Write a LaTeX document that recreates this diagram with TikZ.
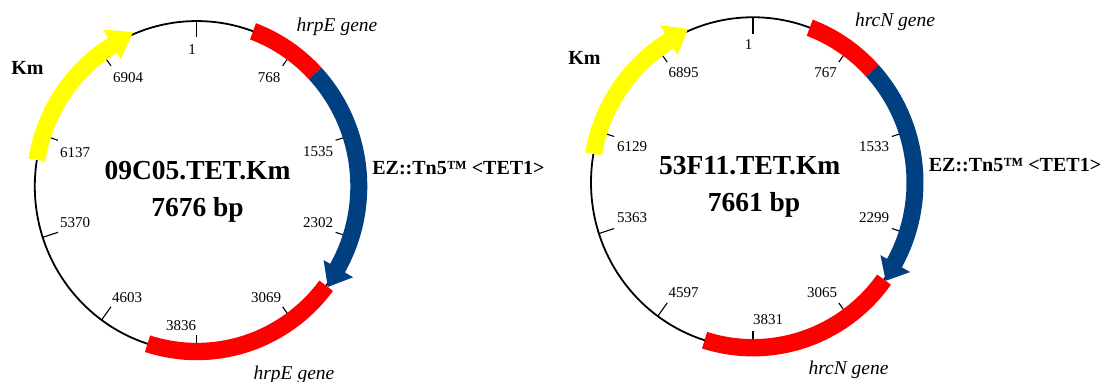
\documentclass[tikz,border=0pt]{standalone}
\usepackage{fontspec}
\setmainfont{Liberation Serif}
\definecolor{tnblue}{RGB}{0,64,128}
\definecolor{kmyellow}{RGB}{255,255,0}
\definecolor{genered}{RGB}{255,0,0}
\begin{document}
\begin{tikzpicture}[x=1pt,y=1pt,
  backbone/.style={line width=1.8pt},
  tickmark/.style={line width=1.1pt},
  ticklabel/.style={anchor=base,inner sep=0pt,font=\fontsize{15}{15}\selectfont},
  maptitle/.style={anchor=base,inner sep=0pt,font=\fontsize{27.5}{28}\selectfont\bfseries},
  featlabel/.style={anchor=base,inner sep=0pt,font=\fontsize{20}{20}\selectfont\bfseries},
  genelabel/.style={anchor=base,inner sep=0pt,font=\fontsize{19.5}{20}\selectfont\itshape},
]
\useasboundingbox (0,0) rectangle (1101,382);
\fill[white] (0,0) rectangle (1101,382);

% ---------------- left plasmid ----------------
\begin{scope}[shift={(196.8,195.7)}, yscale=1.02]
  \draw[backbone] (0,0) circle[radius=162];
  \foreach \k in {0,...,9} \draw[tickmark] ({90-36*\k}:162) -- ({90-36*\k}:146);
  % Km (yellow arrow)
  \fill[kmyellow] (170.8:153.5) arc[start angle=170.8,end angle=121.4,radius=153.5]
     -- (121.4:146) -- (112.9:164) -- (121.4:180) -- (121.4:170.5)
     arc[start angle=121.4,end angle=170.8,radius=170.5] -- cycle;
  % hrpE top
  \fill[genered] (69.7:153.5) arc[start angle=69.7,end angle=43,radius=153.5]
     -- (43:170.5) arc[start angle=43,end angle=69.7,radius=170.5] -- cycle;
  % EZ::Tn5 (blue arrow)
  \fill[tnblue] (43:153.5) arc[start angle=43,end angle=-29.7,radius=153.5]
     -- (-29.7:146) -- (-37:164) -- (-29.7:180) -- (-29.7:170.5)
     arc[start angle=-29.7,end angle=43,radius=170.5] -- cycle;
  % hrpE bottom
  \fill[genered] (-37:153.5) arc[start angle=-37,end angle=-107.7,radius=153.5]
     -- (-107.7:170.5) arc[start angle=-107.7,end angle=-37,radius=170.5] -- cycle;
\end{scope}
\node[ticklabel] (L1)    at (192,327) {1};
\node[ticklabel] (L768)  at (269,299) {768};
\node[ticklabel] (L1535) at (318,225) {1535};
\node[ticklabel] (L2302) at (318,154) {2302};
\node[ticklabel] (L3069) at (266,79)  {3069};
\node[ticklabel] (L3836) at (181,51)  {3836};
\node[ticklabel] (L4603) at (127,79)  {4603};
\node[ticklabel] (L5370) at (75,154)  {5370};
\node[ticklabel] (L6137) at (75,224)  {6137};
\node[ticklabel] (L6904) at (128,299) {6904};
\node[maptitle] (Ltitle) at (197.5,202) {09C05.TET.Km};
\node[maptitle] (Lsize)  at (197.5,165.3) {7676 bp};
\node[featlabel] (LKm) at (27.5,307) {Km};
\node[featlabel] (LEZ) at (458.5,207) {EZ::Tn5™ <TET1>};
\node[genelabel] (LhrpEtop) at (337,350.5) {hrpE gene};
\node[genelabel] (LhrpEbot) at (294,2) {hrpE gene};

% ---------------- right plasmid ----------------
\begin{scope}[shift={(753,199.5)}, yscale=1.02]
  \draw[backbone] (0,0) circle[radius=162];
  \foreach \k in {0,...,9} \draw[tickmark] ({90-36*\k}:162) -- ({90-36*\k}:146);
  \fill[kmyellow] (170:153.5) arc[start angle=170,end angle=121.1,radius=153.5]
     -- (121.1:146) -- (113.4:164) -- (121.1:180) -- (121.1:170.5)
     arc[start angle=121.1,end angle=170,radius=170.5] -- cycle;
  \fill[genered] (69.5:153.5) arc[start angle=69.5,end angle=42.5,radius=153.5]
     -- (42.5:170.5) arc[start angle=42.5,end angle=69.5,radius=170.5] -- cycle;
  \fill[tnblue] (42.5:153.5) arc[start angle=42.5,end angle=-29.2,radius=153.5]
     -- (-29.2:146) -- (-36:164) -- (-29.2:180) -- (-29.2:170.5)
     arc[start angle=-29.2,end angle=42.5,radius=170.5] -- cycle;
  \fill[genered] (-36:153.5) arc[start angle=-36,end angle=-107.4,radius=153.5]
     -- (-107.4:170.5) arc[start angle=-107.4,end angle=-36,radius=170.5] -- cycle;
\end{scope}
\node[ticklabel] (R1)    at (748.7,332) {1};
\node[ticklabel] (R767)  at (825.5,304) {767};
\node[ticklabel] (R1533) at (874,230)   {1533};
\node[ticklabel] (R2299) at (874,159)   {2299};
\node[ticklabel] (R3065) at (822,84)    {3065};
\node[ticklabel] (R3831) at (768,57)    {3831};
\node[ticklabel] (R4597) at (683.5,84)  {4597};
\node[ticklabel] (R5363) at (632,159)   {5363};
\node[ticklabel] (R6129) at (632,230)   {6129};
\node[ticklabel] (R6895) at (683.5,304) {6895};
\node[maptitle] (Rtitle) at (749.7,207) {53F11.TET.Km};
\node[maptitle] (Rsize)  at (754,170.3) {7661 bp};
\node[featlabel] (RKm) at (584.5,317) {Km};
\node[featlabel] (REZ) at (1015,210) {EZ::Tn5™ <TET1>};
\node[genelabel] (RhrcNtop) at (895,355.5) {hrcN gene};
\node[genelabel] (RhrcNbot) at (848.5,7.7) {hrcN gene};
\end{tikzpicture}
\end{document}
